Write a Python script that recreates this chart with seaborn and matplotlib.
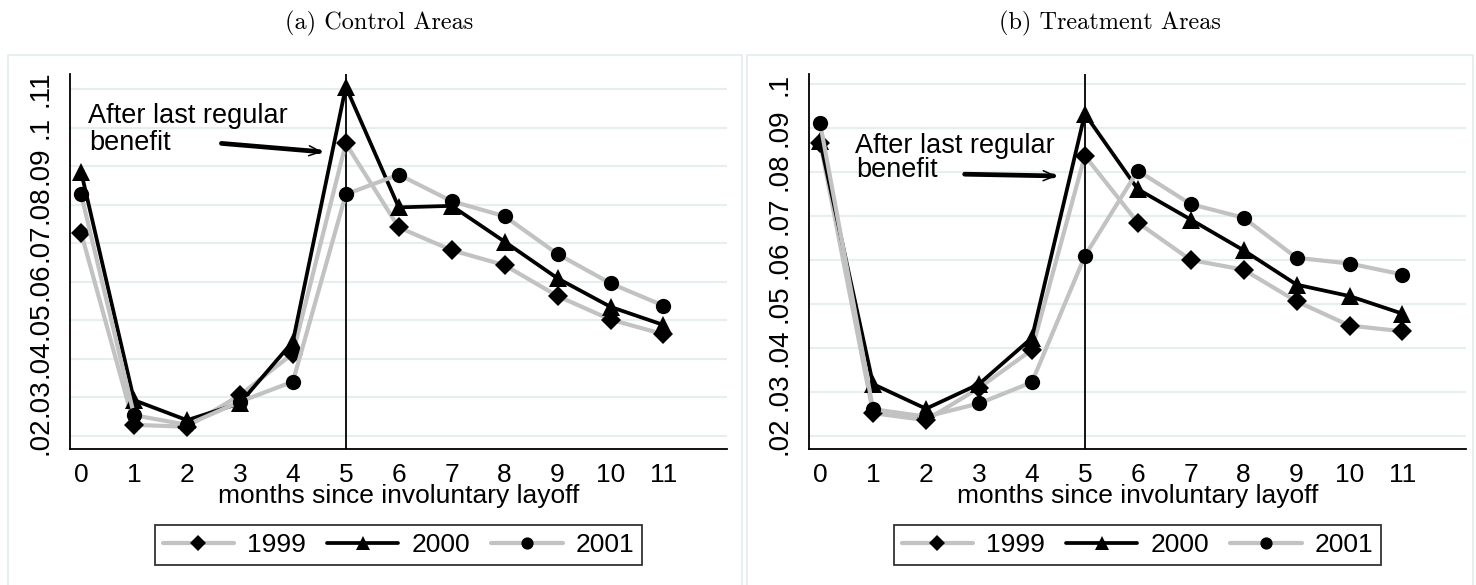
import matplotlib
matplotlib.use("Agg")
import matplotlib.pyplot as plt
from matplotlib.patches import Rectangle
import pandas as pd
import seaborn as sns

sns.set_theme(style="white")
plt.rcParams["font.family"] = ["Liberation Sans", "DejaVu Sans"]
plt.rcParams.update({"text.color": "black", "axes.labelcolor": "black",
                     "xtick.color": "black", "ytick.color": "black"})

# ---------------------------------------------------------------------
# data
# ---------------------------------------------------------------------
months = [0, 1, 2, 3, 4, 5, 6, 7, 8, 9, 10, 11]
years = ["1999", "2000", "2001"]

ctrl_1999 = [0.0727, 0.0229, 0.0224, 0.0306, 0.0414, 0.0959, 0.0741, 0.0682, 0.0643, 0.0563, 0.0502, 0.0464]
ctrl_2000 = [0.0885, 0.0293, 0.0241, 0.0285, 0.0445, 0.1106, 0.0793, 0.0797, 0.0704, 0.0609, 0.0535, 0.0488]
ctrl_2001 = [0.0827, 0.0254, 0.0229, 0.0289, 0.0341, 0.0827, 0.0878, 0.0809, 0.0770, 0.0672, 0.0596, 0.0538]

treat_1999 = [0.0867, 0.0252, 0.0236, 0.0309, 0.0396, 0.0837, 0.0685, 0.0600, 0.0578, 0.0506, 0.0451, 0.0438]
treat_2000 = [0.0870, 0.0318, 0.0262, 0.0318, 0.0423, 0.0932, 0.0761, 0.0692, 0.0622, 0.0544, 0.0518, 0.0478]
treat_2001 = [0.0911, 0.0261, 0.0244, 0.0274, 0.0322, 0.0609, 0.0803, 0.0727, 0.0696, 0.0605, 0.0592, 0.0567]

ctrl_yticks = [0.02, 0.03, 0.04, 0.05, 0.06, 0.07, 0.08, 0.09, 0.10, 0.11]
ctrl_ylabels = [".02", ".03", ".04", ".05", ".06", ".07", ".08", ".09", ".1", ".11"]
treat_yticks = [0.02, 0.03, 0.04, 0.05, 0.06, 0.07, 0.08, 0.09, 0.10]
treat_ylabels = [".02", ".03", ".04", ".05", ".06", ".07", ".08", ".09", ".1"]

titles = ["(a) Control Areas", "(b) Treatment Areas"]
xlabel = "months since involuntary layoff"
note_lines = ["After last regular", "benefit"]

# ---------------------------------------------------------------------
# styling
# ---------------------------------------------------------------------
GRAY = "#c2c2c2"
styles = {
    "1999": dict(color=GRAY, marker="D", ms=10, lw=3.0),
    "2000": dict(color="black", marker="^", ms=12.5, lw=2.7),
    "2001": dict(color=GRAY, marker="o", ms=11, lw=3.0),
}
FS = 19
W, H = 1476, 585


def to_long(series):
    rows = []
    for yr, vals in zip(years, series):
        for m, v in zip(months, vals):
            rows.append({"month": m, "rate": v, "year": yr})
    return pd.DataFrame(rows)


panels = [
    dict(df=to_long([ctrl_1999, ctrl_2000, ctrl_2001]), ax_px=(70, 74, 727, 449),
         box_px=(8, 55, 742), ylim=(0.01663, 0.1139),
         yticks=ctrl_yticks, ylabels=ctrl_ylabels,
         note_x=0.13, note_y=(0.1012, 0.0942),
         arrow=((2.65, 0.0959), (4.56, 0.0937)),
         title=titles[0], title_x=379),
    dict(df=to_long([treat_1999, treat_2000, treat_2001]), ax_px=(809, 74, 1466, 449),
         box_px=(747, 55, 1473), ylim=(0.01705, 0.10227),
         yticks=treat_yticks, ylabels=treat_ylabels,
         note_x=0.65, note_y=(0.0843, 0.0789),
         arrow=((2.73, 0.0795), (4.47, 0.0791)),
         title=titles[1], title_x=1110),
]

fig = plt.figure(figsize=(W / 100, H / 100), dpi=100)

for p in panels:
    # light panel frame (Stata graph region)
    bx0, by0, bx1 = p["box_px"]
    fig.patches.append(Rectangle((bx0 / W, -0.05), (bx1 - bx0) / W, 1 - by0 / H + 0.05,
                                 transform=fig.transFigure, fill=False,
                                 edgecolor="#e4ecee", lw=1.2, zorder=0))

    x0, y0, x1, y1 = p["ax_px"]
    ax = fig.add_axes([x0 / W, 1 - y1 / H, (x1 - x0) / W, (y1 - y0) / H])
    ax.set_facecolor("none")

    df = p["df"]
    for yr in years:
        st = styles[yr]
        sns.lineplot(data=df[df["year"] == yr], x="month", y="rate",
                     color=st["color"], lw=st["lw"], marker=st["marker"], ms=st["ms"],
                     markerfacecolor="black", markeredgecolor="black", markeredgewidth=0,
                     label=yr, ax=ax, zorder=3)

    ax.axvline(5, color="black", lw=1.3, zorder=2)

    ax.set_xlim(-0.21, 12.2)
    ax.set_ylim(*p["ylim"])
    ax.set_xticks(months)
    ax.set_xticklabels([str(m) for m in months], fontsize=FS)
    ax.set_yticks(p["yticks"])
    ax.set_yticklabels(p["ylabels"], fontsize=FS + 1, rotation=90, va="center")
    ax.tick_params(axis="both", direction="out", length=6, width=1.3, color="black")
    ax.tick_params(axis="x", pad=4)
    ax.tick_params(axis="y", pad=6)
    ax.yaxis.grid(True, color="#e6eef0", lw=1.6)
    ax.xaxis.grid(False)
    ax.set_axisbelow(True)
    for side in ["top", "right"]:
        ax.spines[side].set_visible(False)
    for side in ["left", "bottom"]:
        ax.spines[side].set_color("black")
        ax.spines[side].set_linewidth(1.3)

    ax.set_xlabel(xlabel, fontsize=FS, labelpad=-2)
    ax.set_ylabel("")

    # annotation text and arrow
    ax.text(p["note_x"], p["note_y"][0], note_lines[0], fontsize=FS + 0.5, va="baseline", ha="left")
    ax.text(p["note_x"] + 0.03, p["note_y"][1], note_lines[1], fontsize=FS + 0.5, va="baseline", ha="left")
    (sx, sy), (ex, ey) = p["arrow"]
    ax.annotate("", xy=(ex - 0.06, ey + (sy - ey) * 0.03), xytext=(sx, sy),
                arrowprops=dict(arrowstyle="-", lw=3.4, color="black", shrinkA=0, shrinkB=0))
    ax.annotate("", xy=(ex, ey), xytext=(ex - 0.4, ey + (sy - ey) * 0.4 / (ex - sx)),
                arrowprops=dict(arrowstyle="->,head_length=0.7,head_width=0.3", lw=1.1,
                                color="black", shrinkA=0, shrinkB=0))

    leg = ax.legend(loc="center", bbox_to_anchor=(0.5, -0.256), ncol=3, fontsize=FS,
                    frameon=True, fancybox=False, handlelength=2.7, handletextpad=0.5,
                    columnspacing=0.8, borderpad=0.3, markerscale=0.8)
    leg.get_frame().set_edgecolor("black")
    leg.get_frame().set_linewidth(1.3)

    fig.text(p["title_x"] / W, 1 - 23 / H, p["title"], family="cmr10",
             fontsize=17.5, ha="center", va="center")

fig.savefig("out.png", dpi=100)
